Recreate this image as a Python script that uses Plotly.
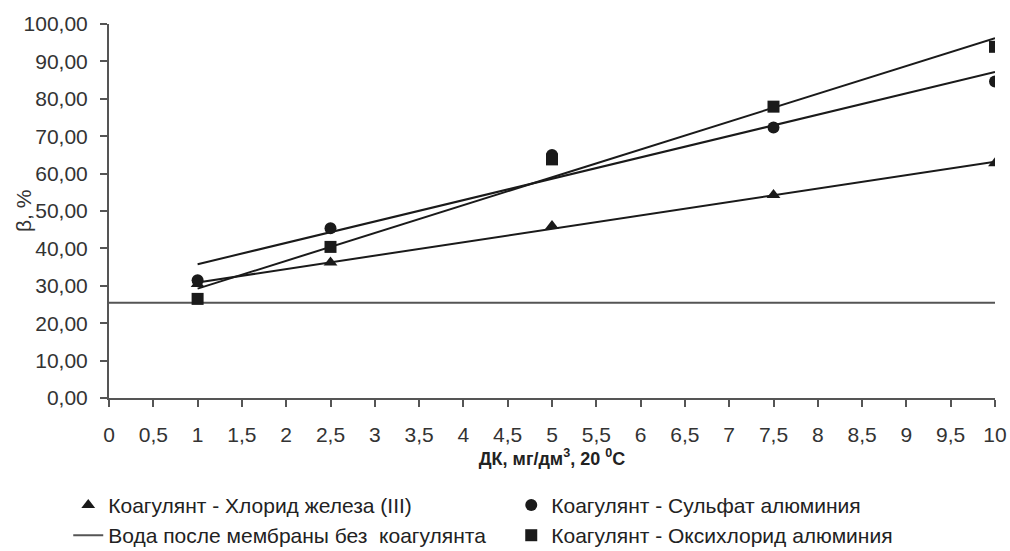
import numpy as np
import plotly.graph_objects as go

dose = [1, 2.5, 5, 7.5, 10]
fecl3 = [30.5, 36.2, 46.0, 54.3, 62.8]
al_sulfate = [31.5, 45.4, 65.0, 72.3, 84.6]
al_oxychloride = [26.5, 40.4, 63.8, 77.9, 93.9]
baseline_x = [0, 10]
baseline_y = [25.5, 25.5]

names = {
    "fe": "Коагулянт - Хлорид железа (III)",
    "su": "Коагулянт - Сульфат алюминия",
    "base": "Вода после мембраны без  коагулянта",
    "ox": "Коагулянт - Оксихлорид алюминия",
}

INK = "#1a1a1a"
FONT = "Liberation Sans, Arial, sans-serif"
fig = go.Figure()

# linear trend lines
xs = np.array([min(dose), max(dose)])
for ys in (fecl3, al_sulfate, al_oxychloride):
    k, b = np.polyfit(dose, ys, 1)
    fig.add_trace(go.Scatter(x=xs, y=k * xs + b, mode="lines",
                             line=dict(color=INK, width=2), showlegend=False,
                             hoverinfo="skip"))

fig.add_trace(go.Scatter(x=dose, y=fecl3, mode="markers", name=names["fe"],
                         marker=dict(symbol="triangle-up", size=12, color=INK)))
fig.add_trace(go.Scatter(x=dose, y=al_sulfate, mode="markers", name=names["su"],
                         marker=dict(symbol="circle", size=12, color=INK)))
fig.add_trace(go.Scatter(x=baseline_x, y=baseline_y, mode="lines", name=names["base"],
                         line=dict(color="#555555", width=2)))
fig.add_trace(go.Scatter(x=dose, y=al_oxychloride, mode="markers", name=names["ox"],
                         marker=dict(symbol="square", size=12, color=INK)))

fig.update_layout(
    width=1010, height=551,
    margin=dict(l=109, r=15, t=24, b=153, autoexpand=False),
    paper_bgcolor="white", plot_bgcolor="white",
    separators=", ",
    font=dict(family=FONT, size=21, color="#333333"),
    showlegend=True,
    legend=dict(
        orientation="h", x=-0.046, xanchor="left", y=-0.232, yanchor="top",
        entrywidth=398, entrywidthmode="pixels",
        font=dict(family=FONT, size=21, color="#222222"),
        itemwidth=30, tracegroupgap=0, bgcolor="rgba(0,0,0,0)",
    ),
    annotations=[dict(
        text="β, %", xref="paper", yref="paper", x=-0.097, y=0.5,
        xanchor="center", yanchor="middle", textangle=-90, showarrow=False,
        font=dict(family=FONT, size=21, color="#333333"),
    )],
)
fig.update_xaxes(
    range=[0, 10], dtick=0.5, tick0=0, showgrid=False, zeroline=False,
    showline=True, linecolor="#555555", linewidth=2, automargin=False,
    ticks="outside", ticklen=7, tickcolor="#555555", tickwidth=1.5,
    ticklabelstandoff=10,
    title=dict(text="<b>ДК, мг/дм<sup>3</sup>, 20 <sup>0</sup>С</b>",
               font=dict(family=FONT, size=18, color="#222222"),
               standoff=7),
)
fig.update_yaxes(
    range=[0, 100], dtick=10, tickformat=".2f", showgrid=False, zeroline=False,
    showline=True, linecolor="#555555", linewidth=2, automargin=False,
    ticks="outside", ticklen=7, tickcolor="#555555", tickwidth=1.5,
    ticklabelstandoff=8,
)

fig.write_html(
    "out.html",
    config={"displayModeBar": False},
    post_script="document.body.style.margin='0';document.body.style.overflow='hidden';",
)
